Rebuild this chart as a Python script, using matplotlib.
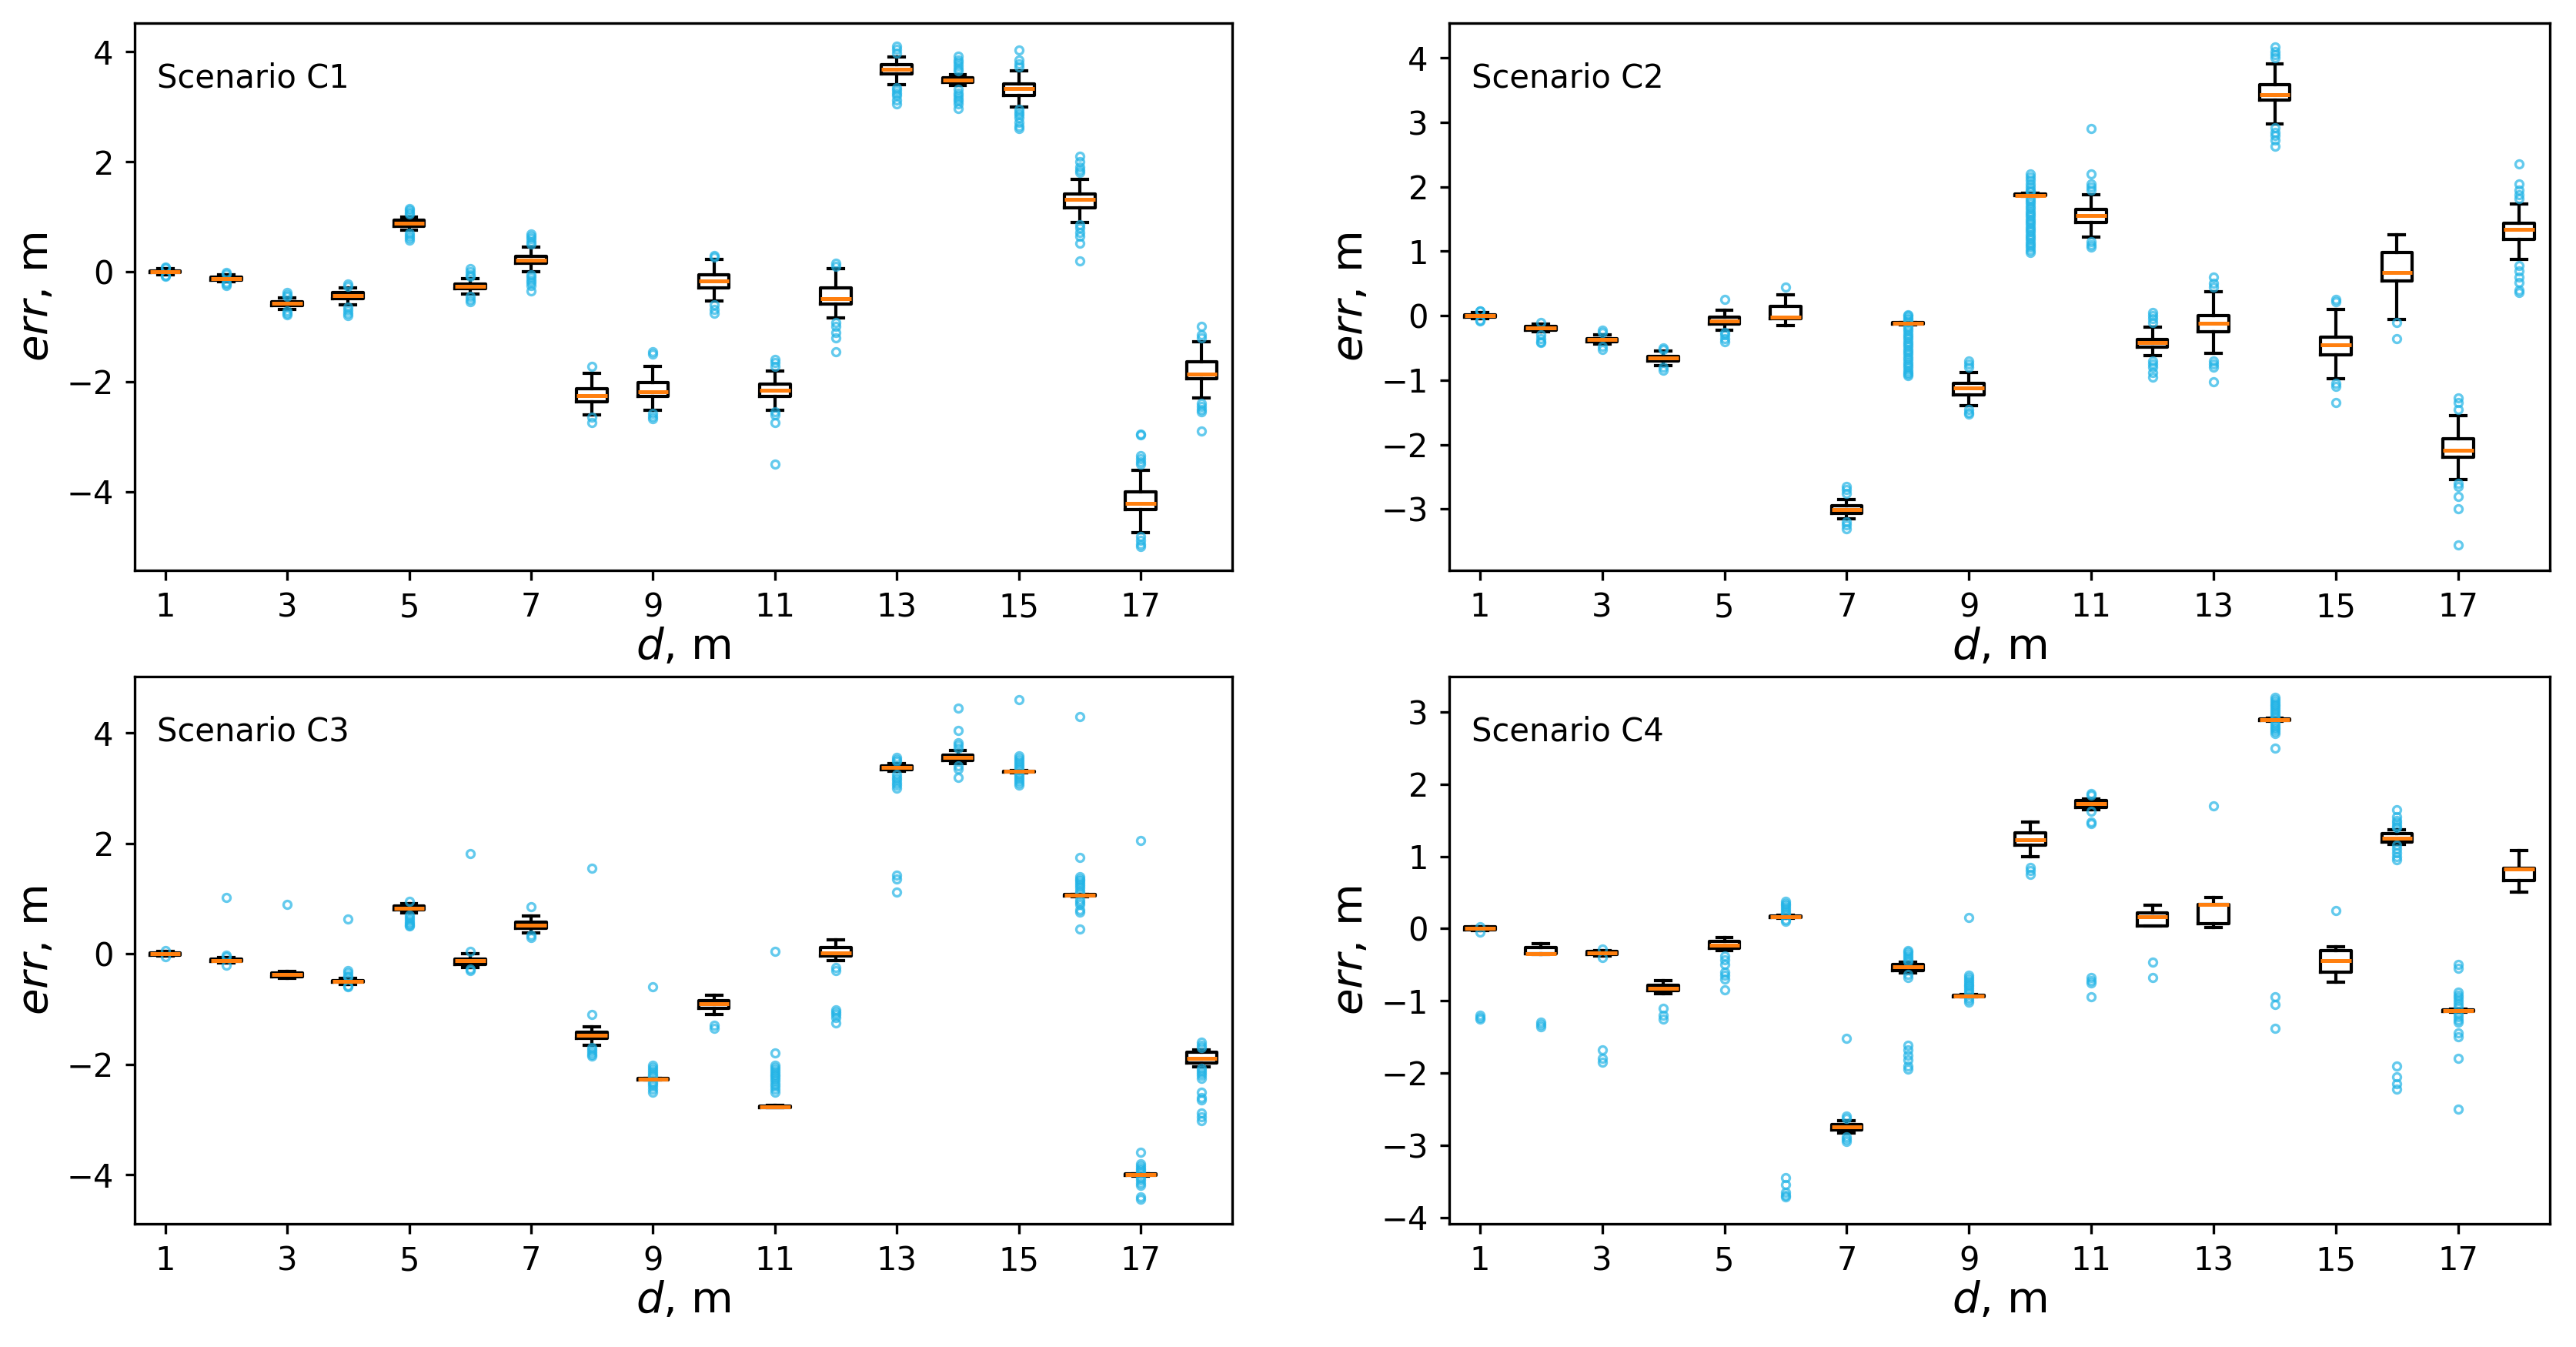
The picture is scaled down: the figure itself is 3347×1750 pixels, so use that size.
import matplotlib
matplotlib.use("Agg")
import matplotlib.pyplot as plt

# ---------------- data ----------------
positions = list(range(1, 19))
xtick_values = [1, 3, 5, 7, 9, 11, 13, 15, 17]
titles = ["Scenario C1", "Scenario C2", "Scenario C3", "Scenario C4"]

# Scenario C1
c1_med = [0.00, -0.12, -0.58, -0.43, 0.88, -0.26, 0.21, -2.25, -2.18, -0.17, -2.15, -0.49, 3.68, 3.48, 3.33, 1.32, -4.21, -1.86]
c1_q1 = [-0.02, -0.15, -0.62, -0.49, 0.83, -0.31, 0.15, -2.37, -2.27, -0.30, -2.27, -0.59, 3.60, 3.44, 3.20, 1.16, -4.33, -1.95]
c1_q3 = [0.02, -0.10, -0.55, -0.38, 0.94, -0.22, 0.28, -2.13, -2.02, -0.05, -2.05, -0.30, 3.77, 3.52, 3.41, 1.41, -4.00, -1.64]
c1_wlo = [-0.05, -0.18, -0.68, -0.60, 0.76, -0.40, 0.00, -2.60, -2.52, -0.53, -2.52, -0.84, 3.40, 3.38, 3.00, 0.90, -4.74, -2.30]
c1_whi = [0.05, -0.06, -0.47, -0.30, 1.00, -0.12, 0.45, -1.85, -1.72, 0.22, -1.81, 0.05, 3.90, 3.58, 3.65, 1.68, -3.61, -1.27]
c1_fliers = [
    [0.07, 0.08, -0.07, -0.08],
    [-0.02, -0.04, -0.20, -0.22, -0.25],
    [-0.38, -0.42, -0.45, -0.72, -0.75, -0.78],
    [-0.22, -0.26, -0.65, -0.70, -0.75, -0.80],
    [1.05, 1.08, 1.12, 1.15, 0.70, 0.66, 0.62, 0.58],
    [0.05, 0.00, -0.05, -0.08, -0.45, -0.50, -0.55],
    [0.50, 0.55, 0.60, 0.65, 0.68, -0.05, -0.10, -0.15, -0.20, -0.25, -0.35],
    [-1.72, -2.65, -2.75],
    [-1.45, -1.50, -2.58, -2.63, -2.68],
    [0.30, 0.26, -0.60, -0.68, -0.75],
    [-1.60, -1.65, -1.72, -2.55, -2.60, -2.75, -3.50],
    [0.15, 0.10, -0.92, -1.00, -1.10, -1.20, -1.45],
    [4.10, 4.05, 3.98, 3.35, 3.30, 3.25, 3.20, 3.12, 3.05],
    [3.65, 3.70, 3.75, 3.80, 3.85, 3.92, 3.32, 3.25, 3.20, 3.15, 3.10, 3.05, 2.97],
    [3.72, 3.78, 3.85, 4.03, 2.95, 2.90, 2.85, 2.80, 2.72, 2.65, 2.60],
    [1.80, 1.85, 1.90, 2.00, 2.10, 0.85, 0.80, 0.72, 0.65, 0.52, 0.20],
    [-2.95, -2.97, -3.35, -3.40, -3.45, -3.50, -4.82, -4.88, -4.95, -5.00],
    [-1.00, -1.15, -1.20, -2.40, -2.45, -2.50, -2.55, -2.90],
]

# Scenario C2
c2_med = [0.00, -0.19, -0.37, -0.66, -0.08, -0.02, -3.01, -0.12, -1.12, 1.87, 1.55, -0.42, -0.12, 3.43, -0.45, 0.67, -2.09, 1.34]
c2_q1 = [-0.02, -0.22, -0.40, -0.70, -0.13, -0.05, -3.07, -0.13, -1.23, 1.86, 1.45, -0.49, -0.25, 3.34, -0.61, 0.54, -2.19, 1.18]
c2_q3 = [0.02, -0.17, -0.35, -0.63, -0.02, 0.15, -2.95, -0.11, -1.05, 1.89, 1.65, -0.37, 0.00, 3.59, -0.33, 0.98, -1.91, 1.44]
c2_wlo = [-0.05, -0.25, -0.44, -0.77, -0.22, -0.15, -3.15, -0.14, -1.40, 1.85, 1.22, -0.62, -0.58, 2.98, -0.98, -0.06, -2.54, 0.88]
c2_whi = [0.05, -0.13, -0.30, -0.55, 0.09, 0.33, -2.85, -0.10, -0.88, 1.90, 1.88, -0.18, 0.37, 3.91, 0.10, 1.26, -1.55, 1.73]
c2_fliers = [
    [0.07, 0.08, -0.07, -0.08],
    [-0.10, -0.30, -0.35, -0.40, -0.42],
    [-0.22, -0.26, -0.48, -0.52],
    [-0.50, -0.52, -0.80, -0.85],
    [0.25, -0.26, -0.30, -0.35, -0.40],
    [0.45],
    [-2.65, -2.70, -2.75, -3.20, -3.25, -3.30],
    [0.02, 0.00, -0.03, -0.06, -0.09, -0.16, -0.20, -0.24, -0.28, -0.32, -0.36, -0.40, -0.44,
     -0.48, -0.52, -0.56, -0.60, -0.64, -0.68, -0.72, -0.76, -0.80, -0.84, -0.88, -0.91, -0.93],
    [-0.70, -0.75, -0.80, -1.45, -1.50, -1.53],
    [2.20, 2.15, 2.10, 2.05, 2.00, 1.95, 1.92, 1.82, 1.78, 1.74, 1.70, 1.66, 1.62, 1.58, 1.54, 1.50,
     1.46, 1.42, 1.38, 1.34, 1.30, 1.26, 1.22, 1.18, 1.14, 1.10, 1.06, 1.02, 0.98],
    [2.90, 2.20, 2.05, 2.00, 1.95, 1.15, 1.10, 1.07],
    [0.05, 0.00, -0.05, -0.10, -0.70, -0.75, -0.80, -0.88, -0.95],
    [0.60, 0.50, 0.45, -0.70, -0.75, -0.80, -1.02],
    [4.17, 4.10, 4.05, 4.00, 2.92, 2.85, 2.80, 2.72, 2.63],
    [0.25, 0.22, -1.05, -1.10, -1.35],
    [-0.10, -0.35],
    [-1.27, -1.35, -1.45, -2.60, -2.65, -2.80, -3.00, -3.55],
    [2.35, 2.05, 1.95, 1.88, 1.82, 0.78, 0.70, 0.60, 0.52, 0.40, 0.36],
]

# Scenario C3
c3_med = [0.00, -0.12, -0.38, -0.50, 0.82, -0.13, 0.52, -1.47, -2.27, -0.91, -2.77, 0.02, 3.37, 3.55, 3.30, 1.06, -4.00, -1.90]
c3_q1 = [-0.02, -0.14, -0.41, -0.52, 0.79, -0.19, 0.46, -1.53, -2.28, -0.99, -2.78, -0.04, 3.34, 3.50, 3.29, 1.05, -4.01, -1.98]
c3_q3 = [0.02, -0.10, -0.35, -0.48, 0.86, -0.10, 0.58, -1.42, -2.26, -0.85, -2.76, 0.12, 3.40, 3.60, 3.31, 1.07, -3.99, -1.78]
c3_wlo = [-0.04, -0.17, -0.45, -0.55, 0.74, -0.25, 0.38, -1.65, -2.29, -1.10, -2.79, -0.13, 3.30, 3.45, 3.28, 1.04, -4.02, -2.04]
c3_whi = [0.04, -0.07, -0.32, -0.45, 0.91, 0.00, 0.68, -1.32, -2.25, -0.75, -2.75, 0.25, 3.45, 3.68, 3.32, 1.08, -3.98, -1.74]
c3_fliers = [
    [0.06, -0.06],
    [1.02, -0.03, -0.05, -0.20],
    [0.90],
    [0.63, -0.30, -0.35, -0.40, -0.42, -0.58, -0.60],
    [0.95, 0.70, 0.66, 0.62, 0.58, 0.55, 0.52, 0.50],
    [1.82, 0.05, -0.28, -0.30],
    [0.85, 0.33, 0.30],
    [1.55, -1.10, -1.70, -1.74, -1.78, -1.82, -1.85],
    [-0.60, -2.02, -2.06, -2.10, -2.14, -2.18, -2.22, -2.32, -2.36, -2.40, -2.45, -2.50],
    [-1.30, -1.35],
    [0.05, -1.80, -2.02, -2.06, -2.10, -2.14, -2.18, -2.22, -2.26, -2.30, -2.35, -2.40, -2.45, -2.50],
    [-0.25, -0.30, -1.02, -1.06, -1.10, -1.15, -1.25],
    [3.55, 3.52, 3.48, 3.25, 3.20, 3.15, 3.10, 3.05, 3.00, 1.42, 1.35, 1.12],
    [4.45, 4.05, 3.82, 3.78, 3.72, 3.40, 3.35, 3.20],
    [4.60, 3.58, 3.54, 3.50, 3.46, 3.42, 3.38, 3.34, 3.26, 3.22, 3.18, 3.14, 3.10, 3.06],
    [4.30, 1.75, 1.40, 1.36, 1.32, 1.28, 1.24, 1.20, 1.15, 1.10, 0.98, 0.94, 0.90, 0.80, 0.75, 0.45],
    [2.05, -3.60, -3.80, -3.84, -3.88, -3.92, -3.95, -4.05, -4.10, -4.15, -4.20, -4.40, -4.45],
    [-1.60, -1.65, -1.70, -2.08, -2.12, -2.16, -2.20, -2.25, -2.50, -2.60, -2.65, -2.88, -2.95, -3.02],
]

# Scenario C4
c4_med = [0.00, -0.35, -0.34, -0.83, -0.23, 0.16, -2.75, -0.53, -0.93, 1.23, 1.73, 0.16, 0.33, 2.89, -0.44, 1.25, -1.14, 0.83]
c4_q1 = [-0.02, -0.35, -0.36, -0.86, -0.27, 0.15, -2.79, -0.58, -0.94, 1.15, 1.68, 0.04, 0.07, 2.88, -0.60, 1.20, -1.15, 0.67]
c4_q3 = [0.02, -0.26, -0.32, -0.78, -0.18, 0.17, -2.71, -0.50, -0.92, 1.33, 1.77, 0.22, 0.33, 2.90, -0.30, 1.32, -1.13, 0.84]
c4_wlo = [-0.03, -0.36, -0.38, -0.90, -0.30, 0.14, -2.83, -0.61, -0.95, 0.99, 1.65, 0.04, 0.01, 2.87, -0.74, 1.17, -1.16, 0.50]
c4_whi = [0.03, -0.21, -0.30, -0.72, -0.12, 0.18, -2.66, -0.47, -0.91, 1.47, 1.80, 0.32, 0.43, 2.91, -0.25, 1.37, -1.12, 1.08]
c4_fliers = [
    [0.03, -0.05, -1.20, -1.23, -1.25],
    [-1.30, -1.33, -1.36],
    [-0.28, -0.40, -1.68, -1.80, -1.85],
    [-1.10, -1.20, -1.25],
    [-0.38, -0.43, -0.50, -0.60, -0.65, -0.70, -0.85],
    [0.38, 0.35, 0.32, 0.29, 0.26, 0.23, 0.20, 0.12, 0.10, -3.45, -3.55, -3.65, -3.70, -3.72],
    [-1.52, -2.60, -2.63, -2.88, -2.92, -2.95],
    [-0.30, -0.33, -0.36, -0.39, -0.42, -0.45, -0.64, -0.68, -1.62, -1.68, -1.75, -1.82, -1.90, -1.95],
    [0.15, -0.65, -0.68, -0.71, -0.74, -0.77, -0.80, -0.83, -0.86, -0.89, -0.96, -0.99, -1.02],
    [0.85, 0.80, 0.75],
    [1.87, 1.85, 1.62, 1.48, 1.45, -0.68, -0.72, -0.75, -0.95],
    [-0.47, -0.68],
    [1.70],
    [3.20, 3.17, 3.14, 3.11, 3.08, 3.05, 3.02, 2.99, 2.96, 2.93, 2.85, 2.82, 2.79, 2.76, 2.73, 2.70,
     2.50, -0.95, -1.05, -1.38],
    [0.25],
    [1.65, 1.55, 1.50, 1.46, 1.42, 1.40, 1.15, 1.10, 1.05, 1.00, 0.95, -1.90, -2.05, -2.15, -2.22],
    [-0.50, -0.55, -0.88, -0.92, -0.96, -1.00, -1.04, -1.08, -1.18, -1.22, -1.26, -1.30, -1.45, -1.50, -1.80, -2.50],
    [],
]

yticks_c1 = [-4, -2, 0, 2, 4]
yticks_c2 = [-3, -2, -1, 0, 1, 2, 3, 4]
yticks_c3 = [-4, -2, 0, 2, 4]
yticks_c4 = [-4, -3, -2, -1, 0, 1, 2, 3]

ylims = [(-5.43, 4.52), (-3.95, 4.54), (-4.89, 5.02), (-4.09, 3.49)]

panels = [
    (c1_med, c1_q1, c1_q3, c1_wlo, c1_whi, c1_fliers, yticks_c1),
    (c2_med, c2_q1, c2_q3, c2_wlo, c2_whi, c2_fliers, yticks_c2),
    (c3_med, c3_q1, c3_q3, c3_wlo, c3_whi, c3_fliers, yticks_c3),
    (c4_med, c4_q1, c4_q3, c4_wlo, c4_whi, c4_fliers, yticks_c4),
]

# ---------------- styling ----------------
plt.rcParams['font.family'] = ['DejaVu Sans']
plt.rcParams['axes.linewidth'] = 0.8
plt.rcParams['xtick.major.width'] = 0.8
plt.rcParams['ytick.major.width'] = 0.8
plt.rcParams['xtick.major.size'] = 3
plt.rcParams['ytick.major.size'] = 3

DPI = 300
fig = plt.figure(figsize=(3347 / DPI, 1750 / DPI), dpi=DPI)

W, H = 3347.0, 1750.0
rects = [
    (175 / W, 1 - 741 / H, (1601 - 175) / W, (741 - 30) / H),
    (1883 / W, 1 - 741 / H, (3313 - 1883) / W, (741 - 30) / H),
    (175 / W, 1 - 1590 / H, (1601 - 175) / W, (1590 - 879) / H),
    (1883 / W, 1 - 1590 / H, (3313 - 1883) / W, (1590 - 879) / H),
]

flier_color = '#22b4e6'
lw = 1.0

for i, (med, q1, q3, wlo, whi, fl, yt) in enumerate(panels):
    ax = fig.add_axes(rects[i])
    stats = []
    for k in range(len(positions)):
        stats.append(dict(med=med[k], q1=q1[k], q3=q3[k],
                          whislo=wlo[k], whishi=whi[k], fliers=fl[k]))
    ax.bxp(stats, positions=positions, widths=0.5, showfliers=True,
           boxprops=dict(color='black', linewidth=lw),
           whiskerprops=dict(color='black', linewidth=lw),
           capprops=dict(color='black', linewidth=lw),
           medianprops=dict(color='#ff7f0e', linewidth=1.2),
           flierprops=dict(marker='o', markersize=2.4, markerfacecolor='none',
                           markeredgecolor=flier_color, markeredgewidth=0.8,
                           alpha=0.7, linestyle='none'))
    ax.set_xlim(0.5, 18.5)
    ax.set_ylim(*ylims[i])
    ax.set_xticks(xtick_values)
    ax.set_xticklabels([str(v) for v in xtick_values])
    ax.set_yticks(yt)
    ax.set_yticklabels([str(v).replace('-', '\u2212') for v in yt])
    ax.tick_params(labelsize=10)
    ax.set_xlabel('$d$, m', fontsize=13.5, labelpad=1)
    ax.set_ylabel('$err$, m', fontsize=13.5, labelpad=3)
    ax.text(0.02, 0.90, titles[i], transform=ax.transAxes, fontsize=10,
            ha='left', va='center')

fig.savefig('out.png', dpi=DPI)
